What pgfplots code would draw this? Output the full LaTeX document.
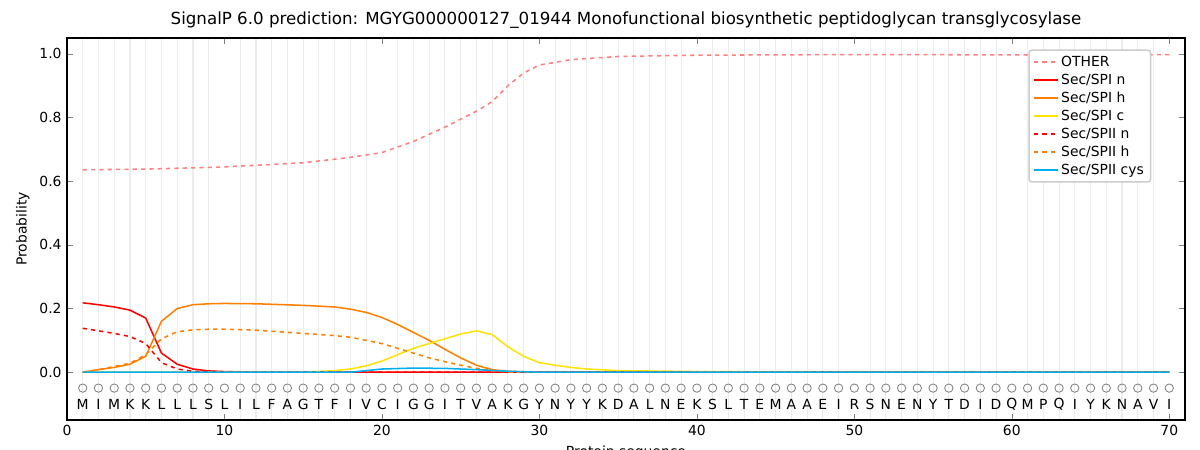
\documentclass[border=0pt]{standalone}
\usepackage{pgfplots}
\pgfplotsset{compat=1.18}
\usepackage{fontspec}
\setmainfont{DejaVu Sans}
\begin{document}
\begin{tikzpicture}
\begin{axis}[scale only axis, width=805pt, height=275pt,
  xmin=0, xmax=71, ymin=-0.15, ymax=1.05,
  xtick={0,10,...,70}, minor x tick num=9,
  ytick={0,0.2,0.4,0.6,0.8,1.0},
  yticklabel style={/pgf/number format/fixed,/pgf/number format/precision=1,/pgf/number format/fixed zerofill},
  /pgf/number format/assume math mode=true,
  tick label style={font=\fontsize{10}{12}\selectfont},
  minor tick length=0pt,
  xminorgrids, minor grid style={gray!15, line width=0.8pt},
  title={SignalP 6.0 prediction: MGYG000000127\_01944 Monofunctional biosynthetic peptidoglycan transglycosylase},
  title style={font=\fontsize{12}{14}\selectfont, yshift=-3pt},
  xlabel={Protein sequence}, ylabel={Probability},
  label style={font=\fontsize{10}{12}\selectfont},
  legend pos=north east, legend cell align=left,
  legend style={font=\fontsize{10}{12}\selectfont, draw=gray!40, rounded corners=2pt},
  clip=false, line width=1.1pt]
\addplot[color=red!50!white, dashed] coordinates {(1,0.636)(5,0.638)(10,0.645)(15,0.658)(18,0.675)(20,0.69)(22,0.725)(24,0.77)(26,0.82)(27,0.85)(28,0.9)(29,0.94)(30,0.965)(32,0.982)(35,0.992)(40,0.996)(50,0.998)(60,0.997)(65,0.995)(70,0.998)};
\addlegendentry{OTHER}
\addplot[color=red] coordinates {(1,0.218)(2,0.212)(3,0.205)(4,0.195)(5,0.17)(6,0.06)(7,0.025)(8,0.01)(9,0.004)(10,0.002)(12,0)(70,0)};
\addlegendentry{Sec/SPI n}
\addplot[color=orange] coordinates {(1,0)(2,0.008)(3,0.015)(4,0.025)(5,0.05)(6,0.16)(7,0.2)(8,0.212)(9,0.215)(10,0.216)(12,0.215)(15,0.21)(17,0.205)(18,0.198)(19,0.188)(20,0.172)(21,0.15)(22,0.125)(23,0.1)(24,0.072)(25,0.045)(26,0.022)(27,0.008)(28,0.003)(30,0)(70,0)};
\addlegendentry{Sec/SPI h}
\addplot[color=yellow!85!orange] coordinates {(1,0)(15,0)(17,0.005)(18,0.01)(19,0.02)(20,0.035)(21,0.055)(22,0.075)(23,0.09)(24,0.105)(25,0.12)(26,0.13)(27,0.118)(28,0.08)(29,0.05)(30,0.03)(31,0.022)(32,0.015)(33,0.01)(35,0.005)(40,0.002)(50,0)(70,0)};
\addlegendentry{Sec/SPI c}
\addplot[color=red, dashed] coordinates {(1,0.138)(2,0.13)(3,0.122)(4,0.112)(5,0.09)(6,0.03)(7,0.01)(8,0.003)(10,0)(70,0)};
\addlegendentry{Sec/SPII n}
\addplot[color=orange, dashed] coordinates {(1,0)(2,0.008)(3,0.018)(4,0.028)(5,0.055)(6,0.105)(7,0.127)(8,0.133)(9,0.135)(10,0.135)(12,0.132)(15,0.122)(17,0.115)(18,0.11)(19,0.1)(20,0.09)(21,0.075)(22,0.06)(23,0.045)(24,0.033)(25,0.022)(26,0.012)(27,0.005)(28,0)(70,0)};
\addlegendentry{Sec/SPII h}
\addplot[color=cyan] coordinates {(1,0)(18,0)(20,0.01)(22,0.013)(24,0.012)(26,0.008)(28,0.003)(30,0)(70,0)};
\addlegendentry{Sec/SPII cys}
\addplot[only marks, mark=o, mark size=3pt, gray, line width=0.6pt, forget plot] table[row sep=\\] {
x y\\ 1 -0.05\\ 2 -0.05\\ 3 -0.05\\ 4 -0.05\\ 5 -0.05\\ 6 -0.05\\ 7 -0.05\\ 8 -0.05\\ 9 -0.05\\ 10 -0.05\\
11 -0.05\\ 12 -0.05\\ 13 -0.05\\ 14 -0.05\\ 15 -0.05\\ 16 -0.05\\ 17 -0.05\\ 18 -0.05\\ 19 -0.05\\ 20 -0.05\\
21 -0.05\\ 22 -0.05\\ 23 -0.05\\ 24 -0.05\\ 25 -0.05\\ 26 -0.05\\ 27 -0.05\\ 28 -0.05\\ 29 -0.05\\ 30 -0.05\\
31 -0.05\\ 32 -0.05\\ 33 -0.05\\ 34 -0.05\\ 35 -0.05\\ 36 -0.05\\ 37 -0.05\\ 38 -0.05\\ 39 -0.05\\ 40 -0.05\\
41 -0.05\\ 42 -0.05\\ 43 -0.05\\ 44 -0.05\\ 45 -0.05\\ 46 -0.05\\ 47 -0.05\\ 48 -0.05\\ 49 -0.05\\ 50 -0.05\\
51 -0.05\\ 52 -0.05\\ 53 -0.05\\ 54 -0.05\\ 55 -0.05\\ 56 -0.05\\ 57 -0.05\\ 58 -0.05\\ 59 -0.05\\ 60 -0.05\\
61 -0.05\\ 62 -0.05\\ 63 -0.05\\ 64 -0.05\\ 65 -0.05\\ 66 -0.05\\ 67 -0.05\\ 68 -0.05\\ 69 -0.05\\ 70 -0.05\\
};
\foreach \l [count=\i] in {M,I,M,K,K,L,L,L,S,L,I,L,F,A,G,T,F,I,V,C,I,G,G,I,T,V,A,K,G,Y,N,Y,Y,K,D,A,L,N,E,K,S,L,T,E,M,A,A,E,I,R,S,N,E,N,Y,T,D,I,D,Q,M,P,Q,I,Y,K,N,A,V,I} {
  \edef\tmp{\noexpand\node[font=\noexpand\fontsize{10}{12}\noexpand\selectfont] at (axis cs:\i,-0.1) {\l};}\tmp
}
\coordinate (bl) at (rel axis cs:-0.0599,-0.0785);
\coordinate (tr) at (rel axis cs:1.0134,1.0995);
\end{axis}
\pgfresetboundingbox
\path (bl) rectangle (tr);
\end{tikzpicture}
\end{document}
